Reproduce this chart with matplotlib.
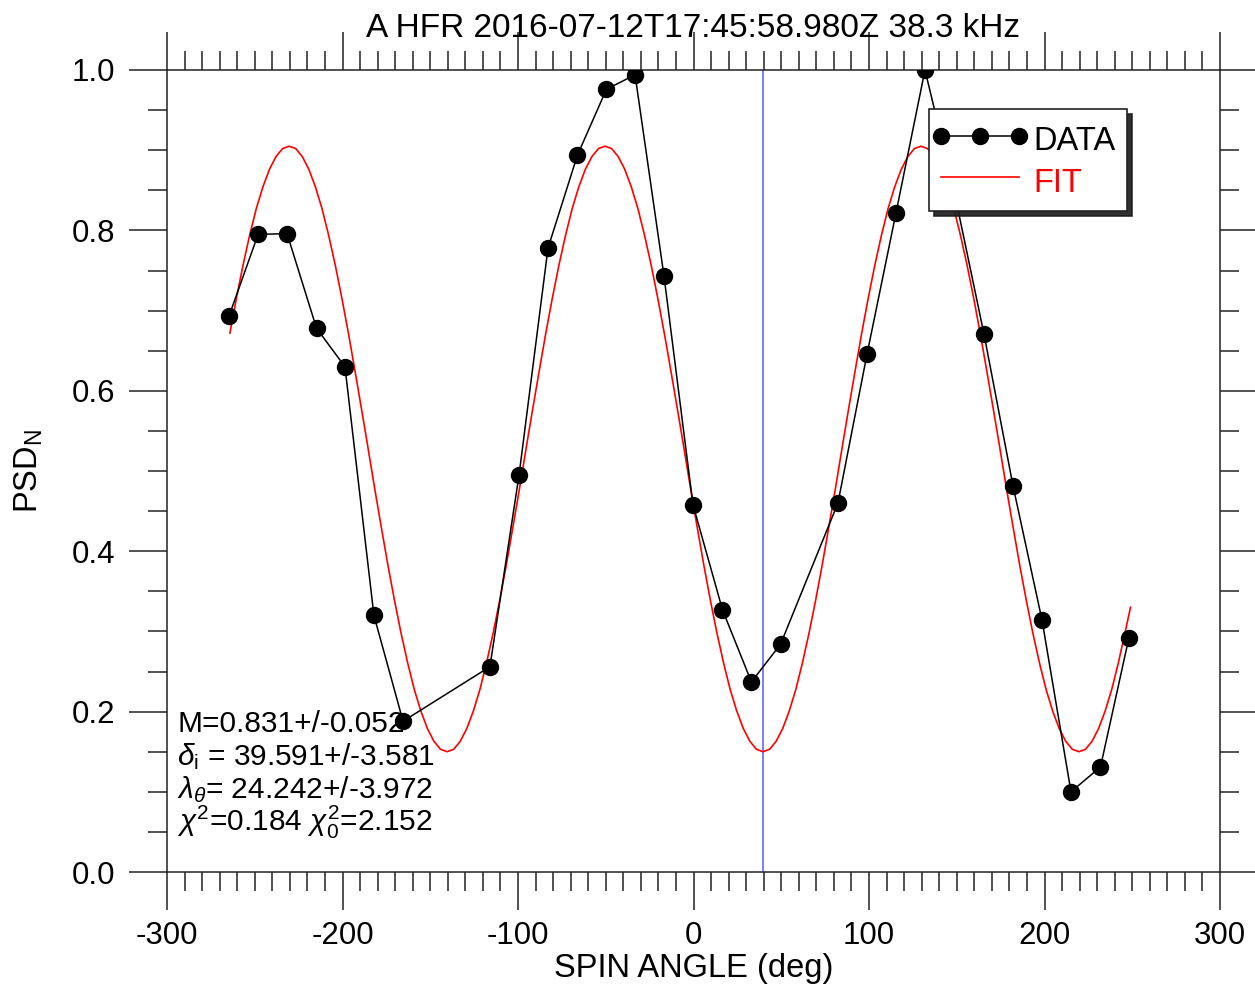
import matplotlib.pyplot as plt
import numpy as np
from matplotlib.ticker import MultipleLocator
from matplotlib.legend_handler import HandlerLine2D

plt.rcParams['font.family'] = ['Liberation Sans', 'DejaVu Sans']
plt.rcParams['mathtext.fontset'] = 'custom'
plt.rcParams['mathtext.rm'] = 'Liberation Sans'
plt.rcParams['mathtext.it'] = 'Liberation Sans:italic'
plt.rcParams['axes.unicode_minus'] = False

# measured points (spin angle in deg, normalised PSD)
data_angle = [-264.7, -248.1, -231.6, -214.8, -198.6, -182.1, -165.5, -116.0, -99.4,
              -82.9, -66.1, -49.6, -33.3, -16.8, -0.3, 16.5, 33.0, 49.6, 82.3, 98.9,
              115.4, 131.9, 148.4, 165.5, 182.1, 198.6, 215.1, 231.9, 248.1]
data_psd = [0.693, 0.795, 0.796, 0.678, 0.630, 0.320, 0.188, 0.256, 0.495,
            0.778, 0.894, 0.976, 0.994, 0.743, 0.458, 0.327, 0.237, 0.284, 0.460, 0.646,
            0.822, 1.000, 0.850, 0.671, 0.481, 0.314, 0.100, 0.131, 0.292]

# fitted curve, every 3.75 deg
fit_angle = list(np.arange(-264.15, 246.0, 3.75)) + [249.0]
fit_psd = [
    0.672, 0.716, 0.757, 0.794, 0.827, 0.854, 0.876, 0.892, 0.902, 0.905, 0.902,
    0.892, 0.876, 0.854, 0.827, 0.794, 0.757, 0.716, 0.672, 0.625, 0.577, 0.528,
    0.478, 0.430, 0.383, 0.339, 0.298, 0.261, 0.228, 0.201, 0.179, 0.163, 0.153,
    0.150, 0.153, 0.163, 0.179, 0.201, 0.228, 0.261, 0.298, 0.339, 0.383, 0.430, 0.478,
    0.528, 0.577, 0.625, 0.672, 0.716, 0.757, 0.794, 0.827, 0.854, 0.876, 0.892, 0.902,
    0.905, 0.902, 0.892, 0.876, 0.854, 0.827, 0.794, 0.757, 0.716, 0.672, 0.625, 0.577,
    0.528, 0.478, 0.430, 0.383, 0.339, 0.298, 0.261, 0.228, 0.201, 0.179, 0.163, 0.153,
    0.150, 0.153, 0.163, 0.179, 0.201, 0.228, 0.261, 0.298, 0.339, 0.383, 0.430, 0.478,
    0.528, 0.577, 0.625, 0.672, 0.716, 0.757, 0.794, 0.827, 0.854, 0.876, 0.892, 0.902,
    0.905, 0.902, 0.892, 0.876, 0.854, 0.827, 0.794, 0.757, 0.716, 0.672, 0.625, 0.577,
    0.528, 0.478, 0.430, 0.383, 0.339, 0.298, 0.261, 0.228, 0.201, 0.179, 0.163, 0.153,
    0.150, 0.153, 0.163, 0.179, 0.201, 0.228, 0.261, 0.298,
    0.330]

delta_i = 39.591
fit_lines = [r'M=0.831+/-0.052',
             r'$\delta_{\rm i}$ = 39.591+/-3.581',
             r'$\lambda_\theta$= 24.242+/-3.972',
             r'$\chi^2$=0.184 $\chi_0^2$=2.152']

fig = plt.figure(figsize=(12.55, 9.86), dpi=100)
ax = fig.add_axes([167/1255, 114/986, 1053/1255, 802/986])

fit_line, = ax.plot(fit_angle, fit_psd, color='red', lw=1.2, label='FIT', zorder=2)
data_line, = ax.plot(data_angle, data_psd, color='black', lw=1.1, marker='o', ms=11.5,
                     label='DATA', zorder=3)
ax.axvline(delta_i, color='#5a5aff', lw=1.1, zorder=1)

ax.set_xlim(-300, 300)
ax.set_ylim(0, 1.0)
ax.xaxis.set_major_locator(MultipleLocator(100))
ax.xaxis.set_minor_locator(MultipleLocator(10))
ax.yaxis.set_major_locator(MultipleLocator(0.2))
ax.yaxis.set_minor_locator(MultipleLocator(0.05))
ax.yaxis.set_major_formatter(plt.FuncFormatter(lambda v, p: f'{v:.1f}'))

ax.tick_params(which='both', direction='out', top=True, right=True, width=1.1,
               color='#222222', labelsize=22.5)
ax.tick_params(which='major', length=27.4, pad=8)
ax.tick_params(which='minor', length=13.7)
ax.tick_params(axis='y', which='major', pad=10)
for s in ax.spines.values():
    s.set_linewidth(1.1)
    s.set_color('#222222')

fig.text(693.5/1255, 1 - 37/986, 'A HFR 2016-07-12T17:45:58.980Z 38.3 kHz',
         ha='center', va='baseline', fontsize=24)
fig.text(693.5/1255, 9/986, 'SPIN ANGLE (deg)', ha='center', va='baseline', fontsize=23.5)
fig.text(45/1255, 1 - 471/986, r'PSD$_{\rm N}$', rotation=90, ha='right', va='center',
         fontsize=23.5)

for i, t in enumerate(fit_lines):
    ax.text(177/1255, 1 - (732 + 33*i)/986, t, transform=fig.transFigure,
            ha='left', va='baseline', fontsize=21.5, zorder=5)

leg = ax.legend(handles=[data_line, fit_line], loc='upper left',
                bbox_to_anchor=(0.7236, 0.951), borderaxespad=0, fontsize=23.5,
                numpoints=3, handlelength=2.39, handleheight=1.26, handletextpad=0.43,
                handler_map={data_line: HandlerLine2D(marker_pad=0),
                             fit_line: HandlerLine2D(marker_pad=0)},
                fancybox=False,
                shadow={'ox': 3.6, 'oy': -3.6, 'facecolor': '#1a1a1a',
                        'edgecolor': '#1a1a1a', 'alpha': 0.9},
                framealpha=1, edgecolor='#222222', borderpad=0.37, labelspacing=0.2)
leg.get_frame().set_linewidth(1.2)
leg.texts[1].set_color('red')
leg.set_zorder(10)

fig.savefig('out.png', dpi=100)
